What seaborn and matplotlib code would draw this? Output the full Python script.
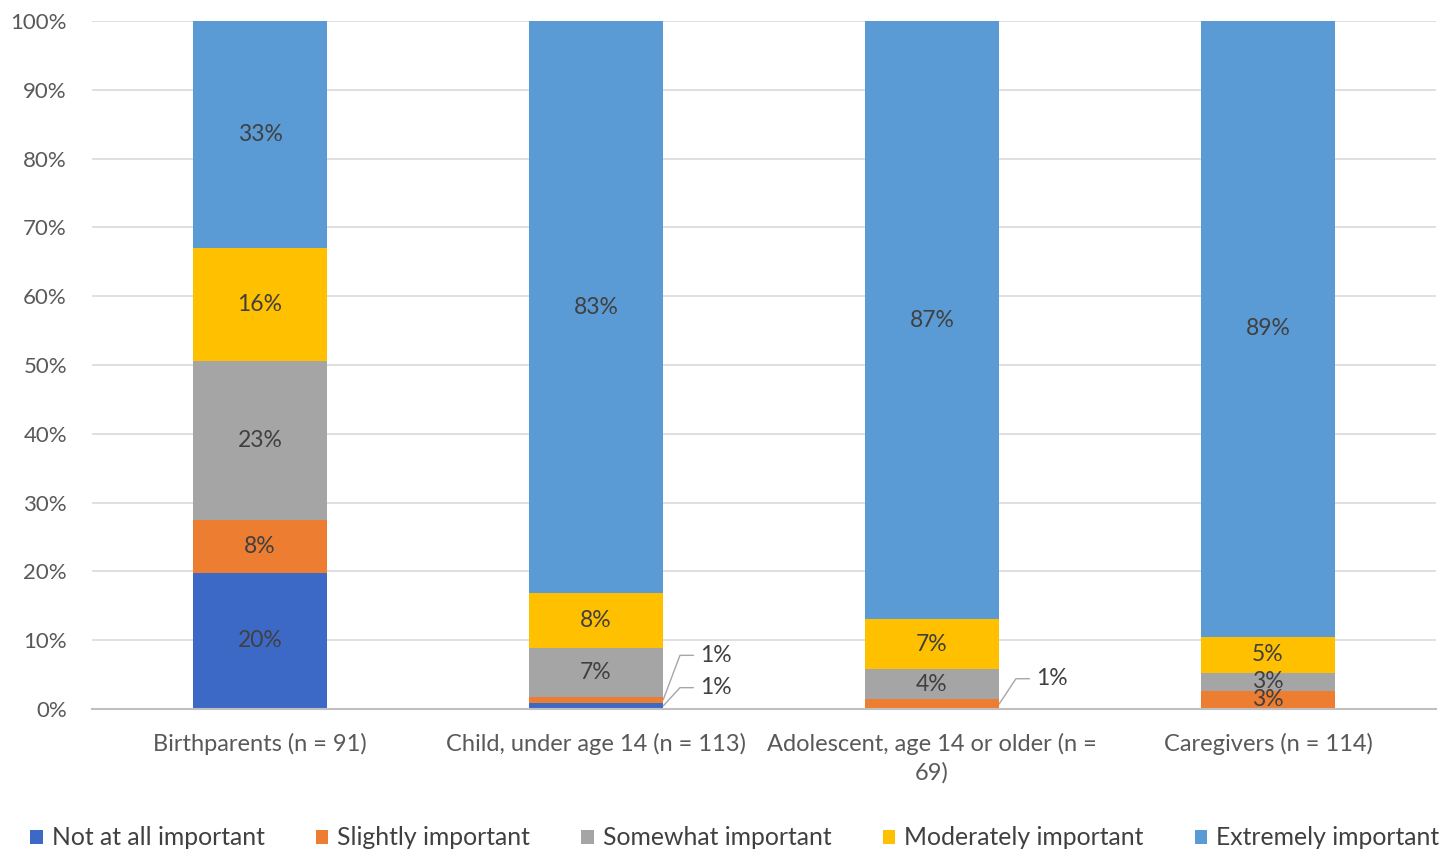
import matplotlib
matplotlib.use("Agg")
import matplotlib.pyplot as plt
import seaborn as sns
import numpy as np
import pandas as pd
from matplotlib.patches import Patch

categories = ["Birthparents (n = 91)", "Child, under age 14 (n = 113)",
              "Adolescent, age 14 or older (n =\n69)", "Caregivers (n = 114)"]
series_names = ["Not at all important", "Slightly important", "Somewhat important",
                "Moderately important", "Extremely important"]
not_at_all = [19.78, 0.88, 0.0, 0.0]
slightly = [7.69, 0.88, 1.45, 2.63]
somewhat = [23.08, 7.08, 4.35, 2.63]
moderately = [16.48, 7.96, 7.25, 5.26]
extremely = [32.97, 83.19, 86.96, 89.47]
yticks = [0, 10, 20, 30, 40, 50, 60, 70, 80, 90, 100]
colors = ["#3D69C6", "#ED7D31", "#A5A5A5", "#FFC000", "#5B9BD5"]

sns.set_theme(style="white")
plt.rcParams["font.family"] = ["Lato", "DejaVu Sans"]

series = [not_at_all, slightly, somewhat, moderately, extremely]
fig = plt.figure(figsize=(14.55, 8.49), dpi=100)
ax = fig.add_axes([0.0632, 0.1649, 0.9237, 0.8104])

cum = np.cumsum(np.array(series), axis=0)
# draw from top layer down so lower layers overlay
for i in range(len(series) - 1, -1, -1):
    df = pd.DataFrame({"cat": categories, "val": cum[i]})
    sns.barplot(data=df, x="cat", y="val", color=colors[i], saturation=1,
                width=0.4, ax=ax, errorbar=None, edgecolor="none", zorder=2)

ax.set_ylim(0, 100)
ax.set_xlim(-0.5, 3.5)
ax.set_yticks(yticks)
ax.set_yticklabels([f"{t}%" for t in yticks])
ax.set_xlabel("")
ax.set_ylabel("")
ax.yaxis.grid(True, color="#D9D9D9", linewidth=1.2, zorder=0)
ax.set_axisbelow(True)
for s in ["left", "right", "top"]:
    ax.spines[s].set_visible(False)
ax.spines["bottom"].set_color("#BFBFBF")
ax.spines["bottom"].set_linewidth(1.5)
ax.tick_params(axis="both", length=0, colors="#595959")
ax.tick_params(axis="x", labelsize=17, pad=17)
ax.tick_params(axis="y", labelsize=16, pad=18)
for t in ax.get_xticklabels():
    t.set_linespacing(1.4)

label_color = "#404040"
lab_fs = 16.5
# in-bar labels
for i, s in enumerate(series):
    bottoms = cum[i] - np.array(s)
    for j, v in enumerate(s):
        if v <= 0:
            continue
        mid = bottoms[j] + v / 2
        if j in (1, 2) and v < 2:
            continue
        ax.text(j, mid, f"{round(v):.0f}%", ha="center", va="center",
                fontsize=lab_fs, color=label_color, zorder=5)

# leader-line labels for tiny segments
def leader(xb, yb, xk, yl, xt, text):
    ax.plot([xb, xk, xk + 0.04], [yb, yl, yl], color="#A6A6A6", lw=1, zorder=4,
            clip_on=False)
    ax.text(xt, yl, text, ha="left", va="center", fontsize=lab_fs, color=label_color)

# Child: slightly (upper) and not at all (lower)
leader(1.2, cum[1][1] - slightly[1] / 2, 1.25, 7.8, 1.31, f"{round(slightly[1])}%")
leader(1.2, not_at_all[1] / 2, 1.25, 3.1, 1.31, f"{round(not_at_all[1])}%")
# Adolescent: slightly
leader(2.2, slightly[2] / 2, 2.25, 4.4, 2.31, f"{round(slightly[2])}%")

handles = [Patch(facecolor=c, edgecolor="none") for c in colors]
fig.legend(handles, series_names, loc="center", bbox_to_anchor=(0.505, 0.013),
           ncol=5, frameon=False, fontsize=17.8, handlelength=0.5, handleheight=0.5,
           handletextpad=0.36, columnspacing=2.08, labelcolor="#404040")

fig.savefig("out.png", dpi=100)
